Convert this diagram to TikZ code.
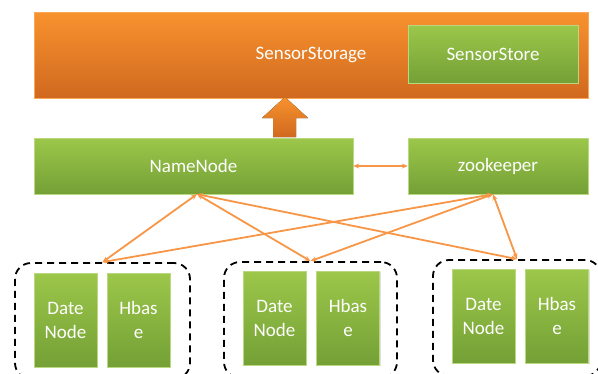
\documentclass[tikz,border=0pt]{standalone}
\usepackage{fontspec}
\setmainfont{Carlito}
\usetikzlibrary{arrows.meta,shadows}

\definecolor{orgtop}{HTML}{F8922E}
\definecolor{orgbot}{HTML}{D0691F}
\definecolor{grntop}{HTML}{9CC74A}
\definecolor{grnbot}{HTML}{74A036}
\definecolor{lnk}{HTML}{F79646}

\tikzset{
  obox/.style={top color=orgtop,bottom color=orgbot,draw=orgtop!80!white,
    text=white,drop shadow={opacity=0.25,shadow xshift=1pt,shadow yshift=-1pt}},
  gbox/.style={top color=grntop,bottom color=grnbot,draw=grntop!70!white,
    text=white,drop shadow={opacity=0.25,shadow xshift=1pt,shadow yshift=-1pt}},
  cellbox/.style={gbox,minimum width=63pt,minimum height=94pt,align=center,inner sep=0pt},
  cluster/.style={draw=black,line width=1.8pt,dash pattern=on 7pt off 5pt,rounded corners=16pt},
  link/.style={draw=lnk,line width=1.8pt,{Stealth[length=6pt,width=5pt]}-{Stealth[length=6pt,width=5pt]}}
}

\begin{document}
\begin{tikzpicture}[x=1pt,y=-1pt,font=\fontsize{19}{24}\selectfont]
\useasboundingbox (0,0) rectangle (598,373);
\clip (0,0) rectangle (598,373);

% top layer
\node[obox,minimum width=554pt,minimum height=86pt] (storage) at (311,55) {SensorStorage};
\node[gbox,minimum width=170pt,minimum height=58pt] (store) at (493,54) {SensorStore};

% fat arrow
\fill[top color=orgtop,bottom color=orgbot] (273,137) -- (296,137) -- (296,118) -- (308,118)
  -- (285,97) -- (262,118) -- (273,118) -- cycle;

% middle layer
\node[gbox,minimum width=319pt,minimum height=56pt] (nn) at (193.5,166) {NameNode};
\node[gbox,minimum width=180pt,minimum height=56pt] (zk) at (498,166) {zookeeper};
\draw[link] (nn.east) -- (zk.west);

% clusters
\node[cluster,minimum width=175pt,minimum height=116pt] (c1) at (102.5,321) {};
\node[cluster,minimum width=173pt,minimum height=116pt] (c2) at (310.5,320) {};
\node[cluster,minimum width=168pt,minimum height=116pt] (c3) at (517,318) {};

\node[cellbox] (d1) at (65.5,320) {Date\\Node};
\node[cellbox] (h1) at (138.5,320) {Hbas\\e};
\node[cellbox] (d2) at (274.5,318) {Date\\Node};
\node[cellbox] (h2) at (348,318) {Hbas\\e};
\node[cellbox] (d3) at (483.5,316) {Date\\Node};
\node[cellbox] (h3) at (557,316) {Hbas\\e};

% links
\coordinate (nnp) at ([xshift=3.5pt]nn.south);
\coordinate (zkp) at ([xshift=-5pt]zk.south);
\foreach \c in {c1,c2,c3}{
  \draw[link] (nnp) -- (\c.north);
  \draw[link] (zkp) -- (\c.north);
}
\end{tikzpicture}
\end{document}
